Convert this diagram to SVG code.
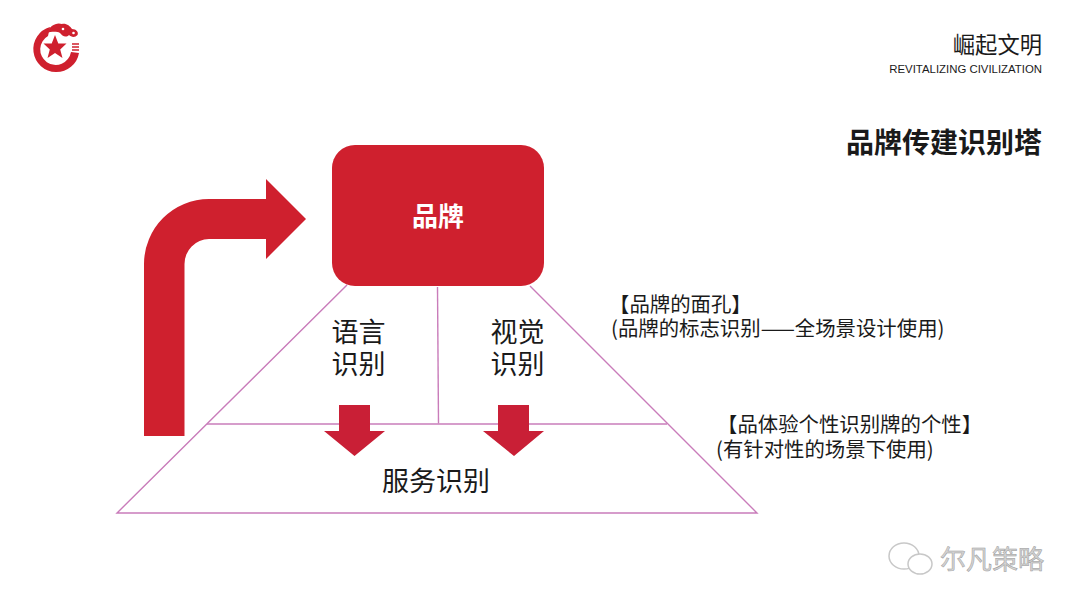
<svg xmlns="http://www.w3.org/2000/svg" width="1080" height="607" viewBox="0 0 1080 607">
<style>
text{font-family:"Noto Sans CJK SC","Noto Sans",sans-serif;fill:#1a1a1a}
.l{stroke:#c97cba;stroke-width:1.4;fill:none}
.r{fill:#cf202e}
.d{fill:#c91f36}
.n{font-size:27px;text-anchor:middle}
.a{font-size:20.400px}
.wm{font-size:26px;fill:#d4d4d4;stroke:#9a9a9a;stroke-width:.5}
.b{fill:#fff;stroke:#c8c8c8;stroke-width:1.5}
</style>
<rect width="1080" height="607" fill="#fff"/>
<g id="logo">
<path d="M50 27A23 23 0 1 0 79 53L71 52A15.500 15.500 0 1 1 48 36Z" class="r"/>
<polygon points="55,35 58.300,43.500 66.500,43.500 60.200,49.500 62.500,58 55,53 47.500,58 49.800,49.500 43.500,43.500 51.700,43.500" class="r"/>
<path d="M46 33C50 26 56 22 62 24C66 23 70 26 72 29C76 29 79 32 77.500 35C75 38 71 37 69 35C66 38 62 36 60 33C56 31 51 32 46 33Z" class="r"/>
<circle cx="63" cy="29" r="1.300" fill="#fff"/>
<circle cx="73.500" cy="33" r="1.300" fill="#fff"/>
<path d="M72 44h7M72 47h7M72 50h7" stroke="#cf202e" stroke-width="1.400" fill="none"/>
</g>
<g id="header">
<text x="1042" y="53" font-size="22.300" text-anchor="end" fill="#222">崛起文明</text>
<text x="1042" y="72.500" font-size="11.400" text-anchor="end" style="font-family:'Liberation Sans',sans-serif">REVITALIZING CIVILIZATION</text>
<text x="1042" y="153" font-size="28" font-weight="700" text-anchor="end" fill="#000">品牌传建识别塔</text>
</g>
<g id="connectors">
<path class="l" d="M347 285L117 513H757L530 286"/>
<path class="l" d="M207 424H667"/>
<path class="l" d="M437.500 287L438.500 423.500"/>
<path id="bent-arrow" class="r" d="M144 436V264A65 65 0 0 1 209 199H266V179L306 219L266 259V239H209A25 25 0 0 0 184.500 264V436Z"/>
<path id="down-arrow-1" class="d" d="M339 405H370V431H385L354.500 456L324 431H339Z"/>
<path id="down-arrow-2" class="d" d="M498 405H529V431H544L514 456L483 431H498Z"/>
</g>
<g id="node-brand">
<rect x="332" y="145" width="212" height="141" rx="23" class="r"/>
<text x="438" y="226" font-size="26" font-weight="700" text-anchor="middle" style="fill:#fff">品牌</text>
</g>
<g id="node-language">
<text class="n" y="342"><tspan x="358.500">语言</tspan><tspan x="358.500" dy="32">识别</tspan></text>
</g>
<g id="node-visual">
<text class="n" y="342"><tspan x="517.500">视觉</tspan><tspan x="517.500" dy="32">识别</tspan></text>
</g>
<g id="node-service">
<text class="n" x="436" y="491">服务识别</text>
</g>
<g id="note-face">
<text class="a" y="312"><tspan x="609">【品牌的面孔】</tspan><tspan x="611" dy="24">(品牌的标志识别——全场景设计使用)</tspan></text>
</g>
<g id="note-personality">
<text class="a" y="432"><tspan x="717">【品体验个性识别牌的个性】</tspan><tspan x="716" dy="25">(有针对性的场景下使用)</tspan></text>
</g>
<g id="watermark">
<ellipse class="b" cx="904" cy="556" rx="15" ry="13"/>
<ellipse class="b" cx="920" cy="564" rx="12" ry="10"/>
<text class="wm" x="940" y="569">尔凡策略</text>
</g>
</svg>
